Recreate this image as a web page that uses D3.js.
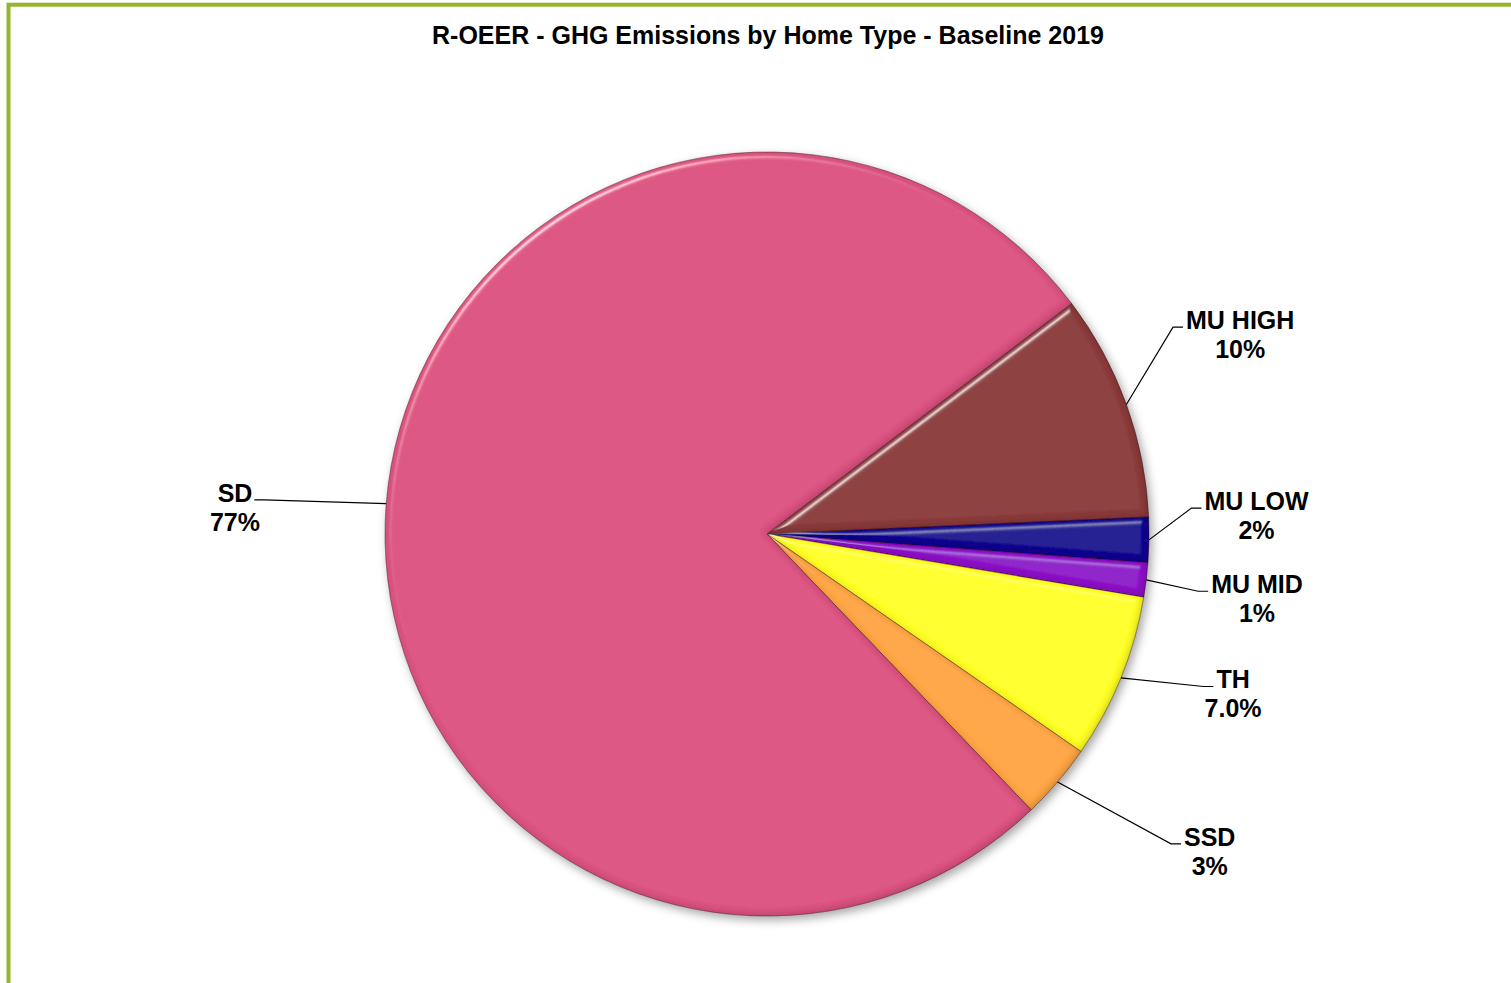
<!DOCTYPE html>
<html>
<head>
<meta charset="utf-8" />
<title>R-OEER - GHG Emissions by Home Type - Baseline 2019</title>
<style>
  html, body { margin: 0; padding: 0; background: #fff; overflow: hidden; }
  text { font-family: "Liberation Sans", Arial, sans-serif; font-weight: bold; fill: #000; }
</style>
</head>
<body>
<svg id="chart" width="1511" height="983"></svg>
<script src="https://d3js.org/d3.v7.min.js"></script>
<script>
// data, clockwise as drawn
var categories = ["MU HIGH", "MU LOW", "MU MID", "TH", "SSD", "SD"];
var shares = [9.6, 1.9, 1.45, 7.0, 3.2, 76.85];
var pctText = ["10%", "2%", "1%", "7.0%", "3%", "77%"];
var colors = ["#8B3A3B", "#140E91", "#8E12C8", "#FFFF26", "#FFA545", "#DB5381"];

var W = 1511, H = 983;
var cx = 767, cy = 534, R = 382;
var startDeg = 52.9;

// manual label nudges (layout), px from polar(mid, 1.3R)
var nudge = [[6, -31], [-7, -26], [-3, 5], [6, -27], [65, -5], [-37, 13]];

var svg = d3.select("#chart");
var defs = svg.append("defs");

var shadow = defs.append("filter").attr("id", "shadow")
  .attr("x", "-10%").attr("y", "-10%").attr("width", "120%").attr("height", "120%");
shadow.append("feDropShadow").attr("dx", 3).attr("dy", 4)
  .attr("stdDeviation", 5).attr("flood-color", "#000").attr("flood-opacity", 0.35);

// bevel: specular highlight on edges + dark rim
var bevel = defs.append("filter").attr("id", "bevel")
  .attr("x", "-5%").attr("y", "-5%").attr("width", "110%").attr("height", "110%");
bevel.append("feGaussianBlur").attr("in", "SourceAlpha").attr("stdDeviation", 3).attr("result", "blur");
var spec = bevel.append("feSpecularLighting").attr("in", "blur")
  .attr("surfaceScale", 5).attr("specularConstant", 0.55).attr("specularExponent", 40)
  .attr("lighting-color", "#ffffff").attr("result", "spec");
spec.append("feDistantLight").attr("azimuth", 235).attr("elevation", 40);
bevel.append("feComposite").attr("in", "spec").attr("in2", "SourceAlpha")
  .attr("operator", "in").attr("result", "specIn");
// dark rim: alpha minus blurred-offset alpha
bevel.append("feOffset").attr("in", "blur").attr("dx", -2).attr("dy", -2).attr("result", "off");
bevel.append("feComposite").attr("in", "SourceAlpha").attr("in2", "off")
  .attr("operator", "out").attr("result", "rim");
bevel.append("feFlood").attr("flood-color", "#000").attr("flood-opacity", 0.35).attr("result", "dark");
bevel.append("feComposite").attr("in", "dark").attr("in2", "rim").attr("operator", "in").attr("result", "darkRim");
bevel.append("feComposite").attr("in", "SourceGraphic").attr("in2", "specIn")
  .attr("operator", "arithmetic").attr("k1", 0).attr("k2", 1).attr("k3", 1).attr("k4", 0).attr("result", "lit");
var m = bevel.append("feMerge");
m.append("feMergeNode").attr("in", "lit");
m.append("feMergeNode").attr("in", "darkRim");

// frame
svg.append("rect")
  .attr("x", 8.5).attr("y", 4.7).attr("width", W + 20).attr("height", H + 20)
  .attr("fill", "none").attr("stroke", "#95B62C").attr("stroke-width", 4);

svg.append("text")
  .attr("x", 768).attr("y", 44)
  .attr("text-anchor", "middle")
  .style("font-size", "25px")
  .text("R-OEER - GHG Emissions by Home Type - Baseline 2019");

var data = categories.map(function(c, i) {
  return { name: c, value: shares[i], pct: pctText[i], color: colors[i], nudge: nudge[i] };
});

var pie = d3.pie()
  .sort(null)
  .value(function(d) { return d.value; })
  .startAngle(startDeg * Math.PI / 180)
  .endAngle(startDeg * Math.PI / 180 + 2 * Math.PI);

var arc = d3.arc().innerRadius(0).outerRadius(R);
var arcs = pie(data);

var g = svg.append("g").attr("transform", "translate(" + cx + "," + cy + ")");
var pieG = g.append("g").attr("filter", "url(#shadow)");

pieG.selectAll("path")
  .data(arcs)
  .enter().append("path")
  .attr("d", arc)
  .attr("fill", function(d) { return d.data.color; })
  .attr("stroke", "rgba(60,20,30,0.4)")
  .attr("stroke-width", 1)
  .attr("filter", "url(#bevel)");

function polar(a, r) { return [r * Math.sin(a), -r * Math.cos(a)]; }

var fs = 25, lh = 29;
var labels = g.selectAll("g.lab")
  .data(arcs)
  .enter().append("g").attr("class", "lab");

labels.each(function(d) {
  var sel = d3.select(this);
  var mid = (d.startAngle + d.endAngle) / 2;
  var p = polar(mid, R * 1.3);
  var lx = p[0] + d.data.nudge[0], ly = p[1] + d.data.nudge[1];

  var t = sel.append("text")
    .attr("text-anchor", "middle")
    .style("font-size", fs + "px");
  t.append("tspan").attr("x", lx).attr("y", ly - lh / 2 + 9).text(d.data.name);
  t.append("tspan").attr("x", lx).attr("y", ly + lh / 2 + 9).text(d.data.pct);

  var w = t.node().firstChild.getComputedTextLength();
  var right = Math.sin(mid) > 0;
  var ey = ly - lh / 2 + 7;
  var ex = right ? lx - w / 2 - 3 : lx + w / 2 + 2;
  var s = polar(mid, R);
  var elbow = right ? ex - 10 : ex + 10;
  sel.append("path")
    .attr("d", "M" + s[0] + "," + s[1] + "L" + elbow + "," + ey + "L" + ex + "," + ey)
    .attr("fill", "none").attr("stroke", "#000").attr("stroke-width", 1.2);
});
</script>
</body>
</html>
